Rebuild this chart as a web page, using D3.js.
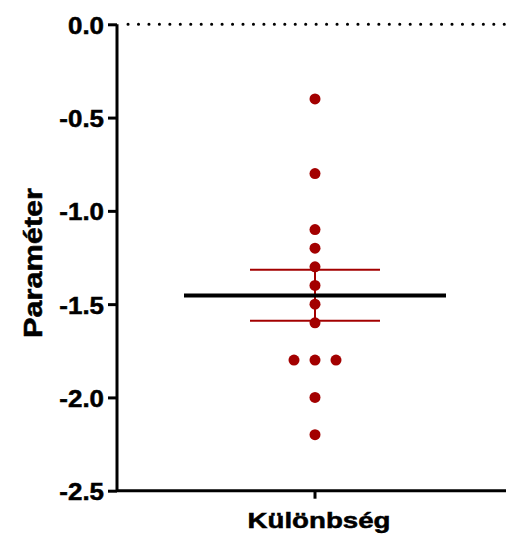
<!DOCTYPE html>
<html>
<head>
<meta charset="utf-8">
<script src="https://cdn.jsdelivr.net/npm/d3@7"></script>
<style>
  body { margin: 0; background: #fff; }
  text { font-family: "Liberation Sans", Arial, sans-serif; font-weight: bold; stroke: #000; stroke-width: 0.5px; }
</style>
</head>
<body>
<script>
// data
const groupName = "Különbség";
const values = [-0.4, -0.8, -1.1, -1.2, -1.3, -1.4, -1.5, -1.6, -1.8, -1.8, -1.8, -2.0, -2.2];
const offsets = [0, 0, 0, 0, 0, 0, 0, 0, -1, 0, 1, 0, 0];   // scatter columns
const meanValue = [-1.454];
const errorBand = [-1.315, -1.589];
const yTicks = [0, -0.5, -1.0, -1.5, -2.0, -2.5];

const width = 513, height = 535;
const svg = d3.select("body").append("svg")
    .attr("width", width)
    .attr("height", height);

const y = d3.scaleLinear().domain([-2.5, 0]).range([490.7, 24.3]);
const x = d3.scaleBand().domain([groupName]).range([117, 513]);
const cx = x(groupName) + x.bandwidth() / 2;

// stretch text a little, the original font runs wider
function widen(sel, k) {
    sel.each(function () {
        const len = this.getComputedTextLength();
        d3.select(this).attr("textLength", len * k).attr("lengthAdjust", "spacingAndGlyphs");
    });
}

// dotted zero line
svg.append("line")
    .attr("x1", 128).attr("x2", 508)
    .attr("y1", y(0)).attr("y2", y(0))
    .attr("stroke", "#000")
    .attr("stroke-width", 3)
    .attr("stroke-linecap", "round")
    .attr("stroke-dasharray", "0.1 10.35");

// y axis
const yAxis = svg.append("g")
    .attr("transform", "translate(117,0)")
    .call(d3.axisLeft(y).tickValues(yTicks).tickFormat(d3.format(".1f")).tickSize(9).tickPadding(4));
yAxis.select(".domain").attr("stroke-width", 3).attr("d", `M0,${y(-2.5)}V${y(0)}`);
yAxis.selectAll(".tick line").attr("stroke-width", 3);
yAxis.selectAll(".tick text")
    .attr("font-size", 24)
    .attr("fill", "#000")
    .attr("dy", "0.38em")
    .text(d => d3.format(".1f")(d).replace("−", "-"))
    .call(widen, 1.08);

// x axis
const xAxis = svg.append("g")
    .attr("transform", `translate(0,${y(-2.5)})`);
xAxis.append("line")
    .attr("x1", 117).attr("x2", 506)
    .attr("stroke", "#000").attr("stroke-width", 3);
xAxis.append("line")
    .attr("x1", cx).attr("x2", cx)
    .attr("y1", 0).attr("y2", 8)
    .attr("stroke", "#000").attr("stroke-width", 3);
xAxis.append("text")
    .attr("x", cx - 71.5 + 4).attr("y", 37.5)
    .attr("font-size", 22.5)
    .attr("textLength", 143)
    .attr("lengthAdjust", "spacingAndGlyphs")
    .text(groupName);

// y label
svg.append("text")
    .attr("transform", `translate(42,${263 + 75}) rotate(-90)`)
    .attr("font-size", 26)
    .attr("textLength", 150)
    .attr("lengthAdjust", "spacingAndGlyphs")
    .text("Paraméter");

const red = "#a30000";

// error bar
svg.append("line")
    .attr("x1", cx).attr("x2", cx)
    .attr("y1", y(errorBand[0])).attr("y2", y(errorBand[1]))
    .attr("stroke", red).attr("stroke-width", 2);
svg.selectAll(".cap").data(errorBand).join("line")
    .attr("class", "cap")
    .attr("x1", cx - 65).attr("x2", cx + 65)
    .attr("y1", d => y(d)).attr("y2", d => y(d))
    .attr("stroke", red).attr("stroke-width", 2);

// points
svg.selectAll(".pt").data(values).join("circle")
    .attr("class", "pt")
    .attr("cx", (d, i) => cx + offsets[i] * 21)
    .attr("cy", d => y(d))
    .attr("r", 5.5)
    .attr("fill", red);

// mean line
svg.selectAll(".mean").data(meanValue).join("line")
    .attr("class", "mean")
    .attr("x1", cx - 131).attr("x2", cx + 131)
    .attr("y1", d => y(d)).attr("y2", d => y(d))
    .attr("stroke", "#000").attr("stroke-width", 4);
</script>
</body>
</html>
